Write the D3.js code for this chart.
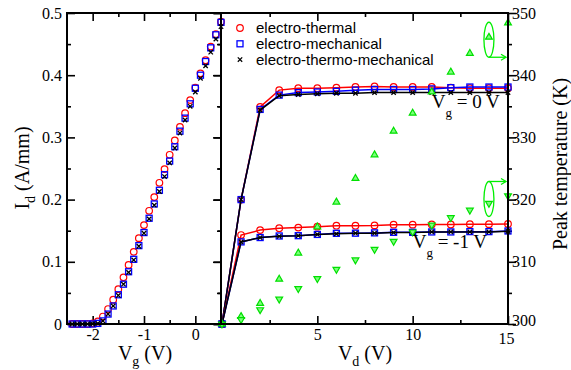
<!DOCTYPE html>
<html lang="en">
<head>
<meta charset="UTF-8">
<script src="https://cdn.jsdelivr.net/npm/d3@7"></script>
<style>
  body { margin: 0; background: #fff; }
  svg { display: block; }
  svg text.serif, .tick text { font-family: "Liberation Serif", "Times New Roman", Times, "DejaVu Serif", serif; font-size: 16px; }
  .title { font-size: 20px !important; }
  .leg { font-family: "Liberation Sans", Arial, Helvetica, sans-serif; font-size: 15px; }
</style>
</head>
<body>
<svg id="chart" width="571" height="370"></svg>
<script>
// left panel: Id vs Vg
let vg = [-2.4,-2.3,-2.2,-2.1,-2.0,-1.9,-1.8,-1.7,-1.6,-1.5,-1.4,-1.3,-1.2,-1.1,-1.0,-0.9,-0.8,-0.7,-0.6,-0.5,-0.4,-0.3,-0.2,-0.1,0,0.1,0.2,0.3,0.4,0.5]
let idThermal = [0,0,0,0,0.001,0.004,0.012,0.024,0.039,0.056,0.075,0.095,0.116,0.138,0.159,0.182,0.204,0.227,0.249,0.272,0.295,0.317,0.339,0.360,0.380,0.403,0.424,0.446,0.466,0.486]
let idMech = [0,0,0,0,0,0.001,0.005,0.016,0.029,0.047,0.064,0.084,0.104,0.126,0.147,0.170,0.193,0.215,0.240,0.262,0.285,0.310,0.331,0.354,0.379,0.400,0.422,0.444,0.465,0.485]
let idThermoMech = [0,0,0,0,0,0.001,0.005,0.016,0.029,0.046,0.064,0.083,0.103,0.125,0.146,0.169,0.191,0.213,0.237,0.259,0.283,0.307,0.328,0.350,0.373,0.395,0.415,0.437,0.458,0.478]

// right panel: Id vs Vd
let vd = [0,1,2,3,4,5,6,7,8,9,10,11,12,13,14,15]
let thermal0 = [0,0.200,0.349,0.376,0.379,0.379,0.380,0.381,0.382,0.381,0.381,0.381,0.380,0.379,0.379,0.379]
let mech0 = [0,0.200,0.345,0.368,0.372,0.373,0.374,0.376,0.377,0.377,0.377,0.378,0.380,0.381,0.381,0.381]
let thermoMech0 = [0,0.200,0.344,0.367,0.369,0.370,0.371,0.371,0.372,0.372,0.372,0.372,0.372,0.372,0.372,0.372]
let thermal1 = [0,0.143,0.151,0.154,0.155,0.1565,0.158,0.158,0.1585,0.1597,0.1597,0.160,0.160,0.1605,0.1605,0.1608]
let mech1 = [0,0.132,0.139,0.1415,0.142,0.144,0.1458,0.146,0.1465,0.1474,0.1474,0.148,0.148,0.1485,0.1485,0.1495]
let thermoMech1 = [0,0.132,0.139,0.141,0.142,0.144,0.145,0.146,0.146,0.147,0.147,0.148,0.148,0.148,0.148,0.149]

// peak temperature (right axis)
let temp0 = [300,301.2,303.3,307.2,311.4,315.6,319.6,323.4,327.2,331.0,333.9,337.3,340.5,343.5,346.1,348.4]
let temp1 = [300,300.7,302.3,304.0,305.7,307.3,308.8,310.3,312.0,313.3,314.8,315.9,317.1,318.3,319.4,320.6]

let legendNames = ['electro-thermal', 'electro-mechanical', 'electro-thermo-mechanical']
let idTicks = [0,0.1,0.2,0.3,0.4,0.5]
let tempTicks = [300,310,320,330,340,350]

let svg = d3.select('#chart')
let plotTop = 13, plotBottom = 324

let xL = d3.scaleLinear().domain([-2.5, 0.5]).range([67, 221])
let xR = d3.scaleLinear().domain([0, 15]).range([222, 508])
let yI = d3.scaleLinear().domain([0, 0.5]).range([plotBottom, plotTop])
let yT = d3.scaleLinear().domain([300, 350]).range([plotBottom, plotTop])

let range = (a, b, s) => d3.range(a, b + s / 2, s)

let addAxis = (axis, transform, values, size, fmt) => {
    let g = svg.append('g').attr('transform', transform)
        .call(axis.tickValues(values).tickSizeInner(size).tickSizeOuter(0).tickPadding(5)
            .tickFormat(fmt || (() => '')))
    g.select('.domain').remove()
    g.attr('font-family', null).attr('font-size', null)
    g.selectAll('.tick line').attr('stroke', '#000').attr('stroke-width', 1.6)
    g.selectAll('.tick text').attr('class', 'serif')
    return g
}

let fmtI = d => d === 0 ? '0' : d.toFixed(1)

// left panel axes
addAxis(d3.axisLeft(yI), `translate(67,0)`, idTicks, -8, fmtI)
addAxis(d3.axisLeft(yI), `translate(67,0)`, range(0.05, 0.45, 0.1), -4)
addAxis(d3.axisRight(yI), `translate(221,0)`, idTicks, -8)
addAxis(d3.axisRight(yI), `translate(221,0)`, range(0.05, 0.45, 0.1), -4)
addAxis(d3.axisBottom(xL), `translate(0,${plotBottom})`, [-2, -1, 0], -8, d => String(d))
addAxis(d3.axisBottom(xL), `translate(0,${plotBottom})`, [-1.5, -0.5], -4)
addAxis(d3.axisTop(xL), `translate(0,${plotTop})`, [-2, -1, 0], -8)
addAxis(d3.axisTop(xL), `translate(0,${plotTop})`, [-1.5, -0.5], -4)

// right panel axes
addAxis(d3.axisRight(yI), `translate(222,0)`, idTicks, -8)
addAxis(d3.axisRight(yI), `translate(222,0)`, range(0.05, 0.45, 0.1), -4)
let tAxis = addAxis(d3.axisRight(yT), `translate(508,0)`, tempTicks, 0, d => String(d))
tAxis.selectAll('.tick text').attr('x', 4)
tAxis.selectAll('.tick text').filter(d => d === 300).attr('dy', '0.1em')
addAxis(d3.axisLeft(yT), `translate(508,0)`, tempTicks, -8)
addAxis(d3.axisLeft(yT), `translate(508,0)`, range(305, 345, 10), -4)
let vdAxis = addAxis(d3.axisBottom(xR), `translate(0,${plotBottom})`, [5, 10, 15], -8, d => String(d))
vdAxis.selectAll('.tick text').filter(d => d === 15).attr('y', 9).attr('x', -2)
addAxis(d3.axisBottom(xR), `translate(0,${plotBottom})`, [2.5, 7.5, 12.5], -4)
addAxis(d3.axisTop(xR), `translate(0,${plotTop})`, [5, 10, 15], -8)
addAxis(d3.axisTop(xR), `translate(0,${plotTop})`, [2.5, 7.5, 12.5], -4)

svg.selectAll('.tick text').attr('fill', '#000')
svg.selectAll('.tick line').filter(function() { return +this.getAttribute('x2') === 0 && +this.getAttribute('y2') === 0 }).remove()

// markers
let circle = (g, pts, color) => g.selectAll(null).data(pts).enter().append('circle')
    .attr('cx', d => d[0]).attr('cy', d => d[1]).attr('r', 3.3)
    .attr('fill', 'none').attr('stroke', color).attr('stroke-width', 1.2)
let square = (g, pts, color) => g.selectAll(null).data(pts).enter().append('rect')
    .attr('x', d => d[0] - 3).attr('y', d => d[1] - 3).attr('width', 6).attr('height', 6)
    .attr('fill', 'none').attr('stroke', color).attr('stroke-width', 1.3)
let cross = (g, pts, color) => g.selectAll(null).data(pts).enter().append('path')
    .attr('d', d => `M${d[0]-2.2},${d[1]-2.2}L${d[0]+2.2},${d[1]+2.2}M${d[0]-2.2},${d[1]+2.2}L${d[0]+2.2},${d[1]-2.2}`)
    .attr('stroke', color).attr('stroke-width', 1.3)
let tri = (g, pts, down) => g.selectAll(null).data(pts).enter().append('path')
    .attr('d', d3.symbol().type(d3.symbolTriangle).size(20))
    .attr('transform', d => `translate(${d[0]},${d[1]})` + (down ? ' rotate(180)' : ''))
    .attr('fill', '#7cff7c').attr('stroke', '#00e000').attr('stroke-width', 1.2)

let markers = [circle, square, cross]
let colors = ['#ff0000', '#0000ff', '#000000']

// left panel data
let gL = svg.append('g')
;[idThermal, idMech, idThermoMech].forEach((ys, i) => {
    markers[i](gL, vg.map((v, j) => [xL(v), yI(ys[j])]), colors[i])
})

// right panel curves
let gR = svg.append('g')
let line = d3.line()
let curves0 = [thermal0, mech0, thermoMech0]
let curves1 = [thermal1, mech1, thermoMech1]
;[curves0, curves1].forEach(set => {
    set.forEach((ys, i) => {
        let pts = vd.map((v, j) => [xR(v), yI(ys[j])])
        gR.append('path').attr('d', line(pts)).attr('fill', 'none')
            .attr('stroke', colors[i]).attr('stroke-width', 1.5)
        markers[i](gR, pts, colors[i])
    })
})

// temperature markers
tri(gR, vd.map((v, j) => [xR(v), yT(temp0[j])]), false)
tri(gR, vd.map((v, j) => [xR(v), yT(temp1[j])]), true)

// ellipses with arrows to the right axis
let green = '#00ee00'
let ell = (t, arrowUp) => {
    let cx = xR(14), cy = yT(t)
    svg.append('ellipse').attr('cx', cx).attr('cy', cy).attr('rx', 5).attr('ry', 17.5)
        .attr('fill', 'none').attr('stroke', green).attr('stroke-width', 1.3)
    let y0 = arrowUp ? cy - 17.5 : cy + 17.5
    let ax = xR(15) - 2
    svg.append('path')
        .attr('d', `M${cx},${y0} Q${cx + 1},${y0} ${cx + 6},${y0} L${ax},${y0}`)
        .attr('fill', 'none').attr('stroke', green).attr('stroke-width', 1.3)
    svg.append('path')
        .attr('d', `M${ax - 5},${y0 - 3} L${ax},${y0} L${ax - 5},${y0 + 3}`)
        .attr('fill', 'none').attr('stroke', green).attr('stroke-width', 1.3)
}
ell(345.7, false)
ell(320.1, true)

// frames
svg.append('rect').attr('x', 67).attr('y', plotTop).attr('width', 154).attr('height', plotBottom - plotTop)
    .attr('fill', 'none').attr('stroke', '#000').attr('stroke-width', 2)
svg.append('rect').attr('x', 221).attr('y', plotTop).attr('width', 287).attr('height', plotBottom - plotTop)
    .attr('fill', 'none').attr('stroke', '#000').attr('stroke-width', 2)

// legend
let leg = svg.append('g')
legendNames.forEach((name, i) => {
    let y = 28 + i * 15.8
    markers[i](leg, [[240, y]], colors[i])
    leg.append('text').attr('class', 'leg').attr('x', 256).attr('y', y + 5).text(name)
})

// curve labels
let vLabel = (x, y, rest) => {
    let t = svg.append('text').attr('class', 'serif').attr('x', x).attr('y', y).style('font-size', '19px')
    t.append('tspan').text('V')
    t.append('tspan').attr('dy', 9).style('font-size', '13px').text('g')
    t.append('tspan').attr('dy', -9).text(rest)
}
vLabel(xR(11), yI(0.347), ' = 0 V')
vLabel(xR(10), yI(0.122), ' = -1 V')

// axis titles
let subTitle = (text, sub, rest, x, y, rot) => {
    let t = svg.append('text').attr('class', 'serif title').attr('text-anchor', 'middle')
        .attr('transform', `translate(${x},${y})` + (rot ? ' rotate(-90)' : ''))
    t.append('tspan').text(text)
    if (sub) {
        t.append('tspan').attr('dy', 6).style('font-size', '14px').text(sub)
        t.append('tspan').attr('dy', -6).text(rest)
    }
    return t
}
subTitle('I', 'd', ' (A/mm)', 29, 168, true)
subTitle('V', 'g', ' (V)', 145, 360, false)
subTitle('V', 'd', ' (V)', 365, 360, false)
subTitle('Peak temperature (K)', null, null, 567, 164, true)
</script>
</body>
</html>
